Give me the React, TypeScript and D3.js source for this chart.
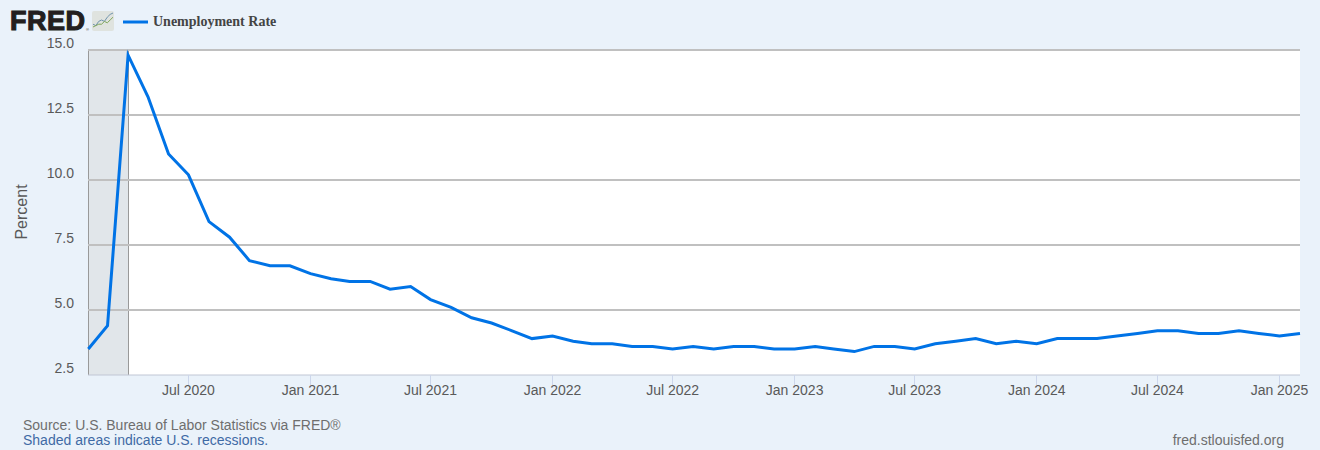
import { useEffect, useRef } from "react"
import * as d3 from "d3"

// Monthly unemployment rate, Feb 2020 - Feb 2025
const startMonth = new Date(2020, 1, 1)
const rates = [
  3.5, 4.4, 14.8, 13.2, 11.0, 10.2, 8.4, 7.8, 6.9, 6.7, 6.7,
  6.4, 6.2, 6.1, 6.1, 5.8, 5.9, 5.4, 5.1, 4.7, 4.5, 4.2, 3.9,
  4.0, 3.8, 3.7, 3.7, 3.6, 3.6, 3.5, 3.6, 3.5, 3.6, 3.6, 3.5,
  3.5, 3.6, 3.5, 3.4, 3.6, 3.6, 3.5, 3.7, 3.8, 3.9, 3.7, 3.8,
  3.7, 3.9, 3.9, 3.9, 4.0, 4.1, 4.2, 4.2, 4.1, 4.1, 4.2, 4.1,
  4.0, 4.1,
]
const yTicks = [2.5, 5, 7.5, 10, 12.5, 15]
const xTicks = [
  new Date(2020, 6, 1), new Date(2021, 0, 1), new Date(2021, 6, 1), new Date(2022, 0, 1), new Date(2022, 6, 1),
  new Date(2023, 0, 1), new Date(2023, 6, 1), new Date(2024, 0, 1), new Date(2024, 6, 1), new Date(2025, 0, 1),
]
const recession = [new Date(2020, 1, 1), new Date(2020, 3, 1)]

// small chart icon next to the logo
const logoBlue = [2, 1, 4, 5, 4, 7, 9, 10]
const logoGreen = [0, 1, 2, 2, 4, 3, 5, 7]

const sans = "'Liberation Sans', Arial, sans-serif"

export default function App() {
  const svgRef = useRef<SVGSVGElement>(null)

  useEffect(() => {
    if (!svgRef.current) return
    const root = d3.select(svgRef.current)
    root.selectAll("*").remove()

    const left = 88
    const right = 1300
    const top = 50
    const bottom = 375

    const x = d3.scaleTime().domain([startMonth, new Date(2025, 1, 1)]).range([left + 0.3, right])
    const y = d3.scaleLinear().domain([2.5, 15]).range([bottom, top])
    // keep thin vertical lines on a single pixel
    const crisp = (d: Date) => Math.floor(x(d)) + 0.5

    root.append("rect").attr("width", 1320).attr("height", 450).attr("fill", "#eaf2fa")
    root.append("rect").attr("x", left).attr("y", top).attr("width", right - left).attr("height", bottom - top).attr("fill", "#ffffff")

    // Recession band
    root
      .append("rect")
      .attr("x", crisp(recession[0]))
      .attr("y", top)
      .attr("width", crisp(recession[1]) - crisp(recession[0]))
      .attr("height", bottom - top)
      .attr("fill", "#e1e6ea")
    recession.forEach((d) => {
      root
        .append("line")
        .attr("x1", crisp(d))
        .attr("x2", crisp(d))
        .attr("y1", top)
        .attr("y2", bottom)
        .attr("stroke", "#999999")
        .attr("stroke-width", 1)
    })

    // Grid lines and y labels
    yTicks.forEach((t) => {
      root
        .append("line")
        .attr("x1", left)
        .attr("x2", right)
        .attr("y1", y(t))
        .attr("y2", y(t))
        .attr("stroke", t === 2.5 ? "#c0c6d4" : "#c0c0c0")
        .attr("stroke-width", t === 2.5 ? 1 : 2)
      root
        .append("text")
        .attr("x", 74)
        .attr("y", y(t) - 2)
        .attr("text-anchor", "end")
        .style("font-family", sans)
        .style("font-size", "14px")
        .style("fill", "#595959")
        .text(d3.format(".1f")(t))
    })

    // X ticks
    const fmt = d3.timeFormat("%b %Y")
    xTicks.forEach((t) => {
      root
        .append("line")
        .attr("x1", crisp(t))
        .attr("x2", crisp(t))
        .attr("y1", bottom)
        .attr("y2", bottom + 10)
        .attr("stroke", "#ccd6eb")
        .attr("stroke-width", 1)
      root
        .append("text")
        .attr("x", x(t))
        .attr("y", 395)
        .attr("text-anchor", "middle")
        .style("font-family", sans)
        .style("font-size", "14px")
        .style("fill", "#595959")
        .text(fmt(t))
    })

    // Y axis title
    root
      .append("text")
      .attr("transform", "translate(27,212) rotate(-90)")
      .attr("text-anchor", "middle")
      .style("font-family", sans)
      .style("font-size", "16px")
      .style("fill", "#595959")
      .text("Percent")

    // Series
    const line = d3
      .line<number>()
      .x((_, i) => x(d3.timeMonth.offset(startMonth, i)))
      .y((d) => y(d))
    root
      .append("path")
      .attr("d", line(rates))
      .attr("fill", "none")
      .attr("stroke", "#0073e6")
      .attr("stroke-width", 3)
      .attr("stroke-linejoin", "miter")

    // Logo
    root
      .append("text")
      .attr("x", 10)
      .attr("y", 30)
      .style("font-family", sans)
      .style("font-size", "27px")
      .style("font-weight", "bold")
      .style("letter-spacing", "0.5px")
      .style("fill", "#231f20")
      .style("stroke", "#231f20")
      .style("stroke-width", "1.1px")
      .text("FRED")
    root
      .append("text")
      .attr("x", 86)
      .attr("y", 31)
      .style("font-family", sans)
      .style("font-size", "4px")
      .style("fill", "#231f20")
      .text("®")
    root
      .append("rect")
      .attr("x", 92)
      .attr("y", 11)
      .attr("width", 22)
      .attr("height", 20)
      .attr("rx", 2)
      .attr("fill", "#dfe3df")
    const iconX = d3.scaleLinear().domain([0, 7]).range([93, 113])
    const iconY = d3.scaleLinear().domain([0, 10]).range([27, 13])
    const iconLine = d3
      .line<number>()
      .x((_, i) => iconX(i))
      .y((d) => iconY(d))
    root.append("path").attr("d", iconLine(logoBlue)).attr("fill", "none").attr("stroke", "#6f93ad").attr("stroke-width", 1)
    root.append("path").attr("d", iconLine(logoGreen)).attr("fill", "none").attr("stroke", "#7fa65a").attr("stroke-width", 1)

    // Legend
    root
      .append("line")
      .attr("x1", 123)
      .attr("x2", 148)
      .attr("y1", 22)
      .attr("y2", 22)
      .attr("stroke", "#0073e6")
      .attr("stroke-width", 3)
    root
      .append("text")
      .attr("x", 153)
      .attr("y", 26)
      .style("font-family", "'Liberation Serif', 'Times New Roman', serif")
      .style("font-size", "14px")
      .style("font-weight", "bold")
      .style("fill", "#444444")
      .text("Unemployment Rate")

    // Footer
    root
      .append("text")
      .attr("x", 23)
      .attr("y", 430)
      .style("font-family", sans)
      .style("font-size", "14px")
      .style("fill", "#6e6e6e")
      .text("Source: U.S. Bureau of Labor Statistics via FRED®")
    root
      .append("text")
      .attr("x", 23)
      .attr("y", 445)
      .style("font-family", sans)
      .style("font-size", "14px")
      .style("fill", "#3f6aa5")
      .text("Shaded areas indicate U.S. recessions.")
    root
      .append("text")
      .attr("x", 1284)
      .attr("y", 445)
      .attr("text-anchor", "end")
      .style("font-family", sans)
      .style("font-size", "14px")
      .style("fill", "#6e6e6e")
      .text("fred.stlouisfed.org")
  }, [])

  return <svg ref={svgRef} width={1320} height={450} style={{ position: "absolute", left: 0, top: 0 }}></svg>
}
